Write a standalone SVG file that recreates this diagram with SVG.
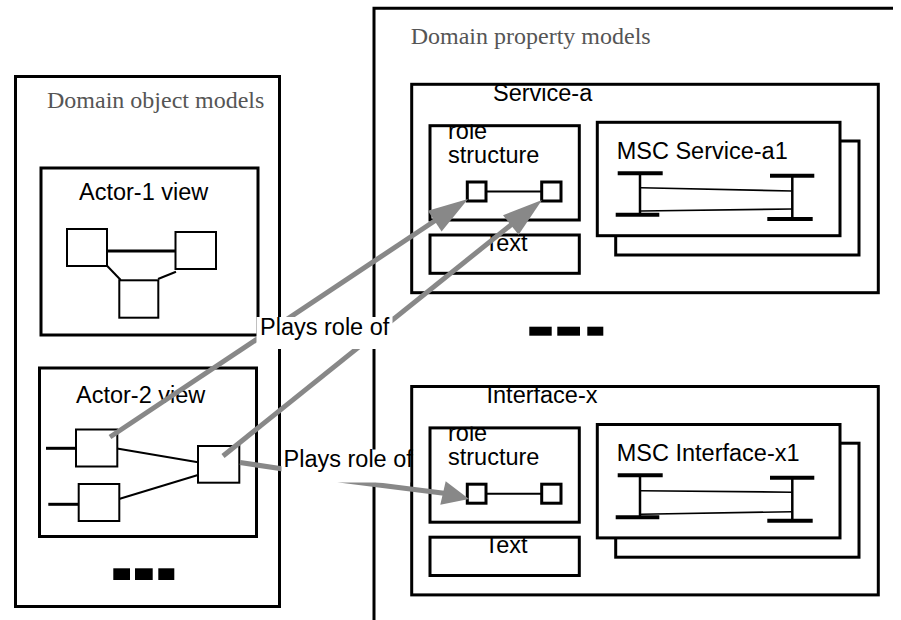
<svg xmlns="http://www.w3.org/2000/svg" width="901" height="620" viewBox="0 0 901 620">
  <style>
    .frame { fill: none; stroke: #000; stroke-width: 3; }
    .fill { fill: #fff; stroke: #000; stroke-width: 3; }
    .node { fill: #fff; stroke: #000; stroke-width: 2; }
    .link { fill: none; stroke: #000; stroke-width: 2; }
    .thick { fill: none; stroke: #000; stroke-width: 3; }
    .bar { fill: none; stroke: #000; stroke-width: 4; }
    .life { fill: none; stroke: #000; stroke-width: 2.5; }
    .msg { fill: none; stroke: #000; stroke-width: 1.6; }
    .dot { fill: #000; }
    .title { font-family: "Liberation Serif", "Times New Roman", serif; font-size: 24px; fill: #555; }
    .lbl { font-family: "Liberation Sans", Arial, sans-serif; font-size: 23.5px; fill: #000; }
    .flow { fill: none; stroke: #888; stroke-width: 5; stroke-linejoin: round; }
    .head { fill: #888; stroke: none; }
    .bg { fill: #fff; stroke: none; }
  </style>
  <defs>
    <clipPath id="clip-rs" clipPathUnits="userSpaceOnUse">
      <rect x="428.5" y="124.2" width="152.3" height="97.3"/>
    </clipPath>
    <clipPath id="clip-box" clipPathUnits="userSpaceOnUse">
      <rect x="410.2" y="82.8" width="469.6" height="211.4"/>
    </clipPath>
    <clipPath id="clip-txt" clipPathUnits="userSpaceOnUse">
      <rect x="428.5" y="233.5" width="152.3" height="41.3"/>
    </clipPath>
  </defs>

  <!-- left panel: domain object models -->
  <g id="domain-object-models">
    <rect class="frame" x="15.5" y="76.5" width="264" height="530"/>
    <text class="title" x="47" y="108">Domain object models</text>
    <rect class="dot" x="113.3" y="568.3" width="16.7" height="11.7"/>
    <rect class="dot" x="135" y="568.3" width="17.7" height="11.7"/>
    <rect class="dot" x="158.3" y="568.3" width="16" height="11.7"/>
  </g>

  <g id="actor-1-view">
    <rect class="frame" x="41" y="168" width="217" height="167"/>
    <text class="lbl" x="79" y="200">Actor-1 view</text>
    <line class="thick" x1="105" y1="251" x2="179" y2="251"/>
    <line class="link" x1="107" y1="265.7" x2="120.7" y2="280"/>
    <line class="link" x1="158" y1="279" x2="176" y2="271.7"/>
    <rect class="node" x="67" y="229" width="40" height="37"/>
    <rect class="node" x="175.5" y="232" width="40.5" height="37"/>
    <rect class="node" x="119.3" y="280.3" width="39" height="37.4"/>
  </g>

  <g id="actor-2-view">
    <rect class="frame" x="39.5" y="368" width="217" height="168.5"/>
    <text class="lbl" x="76" y="403">Actor-2 view</text>
    <line class="thick" x1="46" y1="448.3" x2="77" y2="448.3"/>
    <line class="thick" x1="48.3" y1="504.3" x2="80" y2="504.3"/>
    <line class="link" x1="117" y1="448.5" x2="198" y2="462.3"/>
    <line class="link" x1="119" y1="499" x2="198" y2="475"/>
    <rect class="node" x="76" y="429.5" width="41.3" height="37"/>
    <rect class="node" x="78.7" y="484" width="40.6" height="37"/>
    <rect class="node" x="198" y="446" width="41.3" height="36.7"/>
  </g>

  <!-- right panel: domain property models -->
  <g id="domain-property-models">
    <path class="frame" d="M374,620 V8.3 H893"/>
    <text class="title" x="410.7" y="44">Domain property models</text>
    <rect class="dot" x="529.3" y="326.7" width="22.4" height="9"/>
    <rect class="dot" x="557.3" y="326.7" width="22.7" height="9"/>
    <rect class="dot" x="587.3" y="326.7" width="16" height="9"/>
  </g>

  <g id="service-a">
    <rect class="frame" x="411.7" y="84.3" width="466.6" height="208.4"/>
    <text class="lbl" x="493" y="101" clip-path="url(#clip-box)">Service-a</text>
    <rect class="frame" x="430" y="125.7" width="149.3" height="94.3"/>
    <text class="lbl" clip-path="url(#clip-rs)"><tspan x="448" y="138.8">role</tspan><tspan x="448" y="162.8">structure</tspan></text>
    <line class="link" x1="486" y1="191.5" x2="542" y2="191.5"/>
    <rect class="thick" x="467.3" y="182" width="18.7" height="19"/>
    <rect class="thick" x="541.7" y="182" width="19.3" height="19"/>
    <rect class="frame" x="430" y="235" width="149.3" height="38.3"/>
    <text class="lbl" x="484.5" y="251.2" clip-path="url(#clip-txt)">Text</text>
    <rect class="fill" x="615.7" y="141" width="243.3" height="114"/>
    <rect class="fill" x="597.3" y="122.3" width="242.7" height="113.4"/>
    <text class="lbl" x="616.7" y="159">MSC Service-a1</text>
    <line class="bar" x1="617.7" y1="173.3" x2="662.7" y2="173.3"/>
    <line class="life" x1="640" y1="173.3" x2="640" y2="214.7"/>
    <line class="bar" x1="615.7" y1="214.7" x2="659.3" y2="214.7"/>
    <line class="bar" x1="770" y1="175.7" x2="814.3" y2="175.7"/>
    <line class="life" x1="792.3" y1="175.7" x2="792.3" y2="219"/>
    <line class="bar" x1="767.3" y1="219" x2="812.7" y2="219"/>
    <line class="msg" x1="641" y1="187.7" x2="792" y2="191"/>
    <line class="msg" x1="641" y1="211" x2="792" y2="209"/>
  </g>

  <g id="interface-x" transform="translate(0,302.2)">
    <rect class="frame" x="411.7" y="84.3" width="466.6" height="208.4"/>
    <text class="lbl" x="486.5" y="100.4" clip-path="url(#clip-box)">Interface-x</text>
    <rect class="frame" x="430" y="125.7" width="149.3" height="94.3"/>
    <text class="lbl" clip-path="url(#clip-rs)"><tspan x="448" y="138.8">role</tspan><tspan x="448" y="162.8">structure</tspan></text>
    <line class="link" x1="486" y1="191.5" x2="542" y2="191.5"/>
    <rect class="thick" x="467.3" y="182" width="18.7" height="19"/>
    <rect class="thick" x="541.7" y="182" width="19.3" height="19"/>
    <rect class="frame" x="430" y="235" width="149.3" height="38.3"/>
    <text class="lbl" x="484.5" y="251.2" clip-path="url(#clip-txt)">Text</text>
    <rect class="fill" x="615.7" y="141" width="243.3" height="114"/>
    <rect class="fill" x="597.3" y="122.3" width="242.7" height="113.4"/>
    <text class="lbl" x="616.7" y="158.5">MSC Interface-x1</text>
    <line class="bar" x1="617.7" y1="173" x2="662.7" y2="173"/>
    <line class="life" x1="640" y1="173" x2="640" y2="215"/>
    <line class="bar" x1="615.7" y1="215" x2="659.3" y2="215"/>
    <line class="bar" x1="770" y1="175.5" x2="814.3" y2="175.5"/>
    <line class="life" x1="792.3" y1="175.5" x2="792.3" y2="218.5"/>
    <line class="bar" x1="767.3" y1="218.5" x2="812.7" y2="218.5"/>
    <line class="msg" x1="641" y1="188.5" x2="792" y2="190"/>
    <line class="msg" x1="641" y1="212" x2="792" y2="209.5"/>
  </g>

  <!-- "plays role of" connectors -->
  <g id="connectors">
    <path class="flow" d="M110,437 L436,220"/>
    <polygon class="head" points="468,199 441.6,231.5 427.8,210.7"/>
    <path class="flow" d="M223,456 L512,224"/>
    <polygon class="head" points="542,200 518.6,234.8 503,215.3"/>
    <path class="flow" d="M240,462.5 L280,468.5 L343,480.5 L446,493.5"/>
    <polygon class="head" points="469,499 445.7,481.3 440.3,504.7"/>
    <g id="label-1">
      <rect class="bg" x="256.5" y="317" width="136" height="32"/>
      <text class="lbl" x="260" y="335">Plays role of</text>
    </g>
    <g id="label-2">
      <rect class="bg" x="281.5" y="449.5" width="128.7" height="33"/>
      <text class="lbl" x="283.5" y="467">Plays role of</text>
    </g>
  </g>
</svg>
